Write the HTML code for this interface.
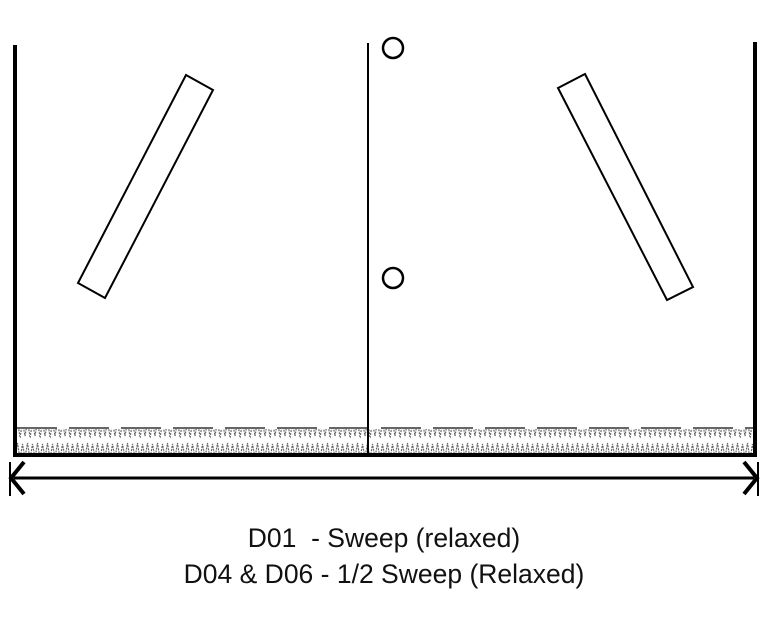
<!DOCTYPE html>
<html><head><meta charset="utf-8"><style>
html,body{margin:0;padding:0;background:#fff;width:768px;height:617px;overflow:hidden}
svg{display:block}
text{font-family:"Liberation Sans",Arial,sans-serif;font-size:26.5px;fill:#111}
</style></head><body>
<svg width="768" height="617" viewBox="0 0 768 617">
<defs>
<pattern id="grav" width="10" height="22" patternUnits="userSpaceOnUse">
<path d="M0 20 L2.5 4 L5 18 L7.5 3 L10 19" stroke="#666" stroke-width="1.2" fill="none" stroke-dasharray="2 1"/>
</pattern>
</defs>
<rect x="17" y="429" width="736" height="24" fill="url(#grav)"/>
<line x1="17" y1="428" x2="753" y2="428" stroke="#333" stroke-width="1.5" stroke-dasharray="40 12"/>
<line x1="15" y1="45" x2="15" y2="456" stroke="#000" stroke-width="4"/>
<line x1="755" y1="42" x2="755" y2="456" stroke="#000" stroke-width="4"/>
<line x1="13" y1="455" x2="757" y2="455" stroke="#000" stroke-width="4"/>
<line x1="368" y1="43" x2="368" y2="455" stroke="#000" stroke-width="2"/>
<circle cx="393" cy="48" r="10" fill="none" stroke="#000" stroke-width="2.5"/>
<circle cx="393" cy="278" r="10" fill="none" stroke="#000" stroke-width="2.5"/>
<polygon points="186,75 213,90 105,298 78,283" fill="#fff" stroke="#000" stroke-width="2"/>
<polygon points="558,88 585,74 693,287 667,300" fill="#fff" stroke="#000" stroke-width="2"/>
<line x1="14" y1="478" x2="754" y2="478" stroke="#000" stroke-width="3"/>
<line x1="10" y1="462" x2="10" y2="496" stroke="#000" stroke-width="2"/>
<line x1="758" y1="462" x2="758" y2="496" stroke="#000" stroke-width="2"/>
<polyline points="24,462 11,478 24,494" fill="none" stroke="#000" stroke-width="4"/>
<polyline points="744,462 757,478 744,494" fill="none" stroke="#000" stroke-width="4"/>
<text x="384" y="547" text-anchor="middle" xml:space="preserve">D01  - Sweep (relaxed)</text>
<text x="384" y="583" text-anchor="middle">D04 &amp; D06 - 1/2 Sweep (Relaxed)</text>
</svg>
</body></html>
